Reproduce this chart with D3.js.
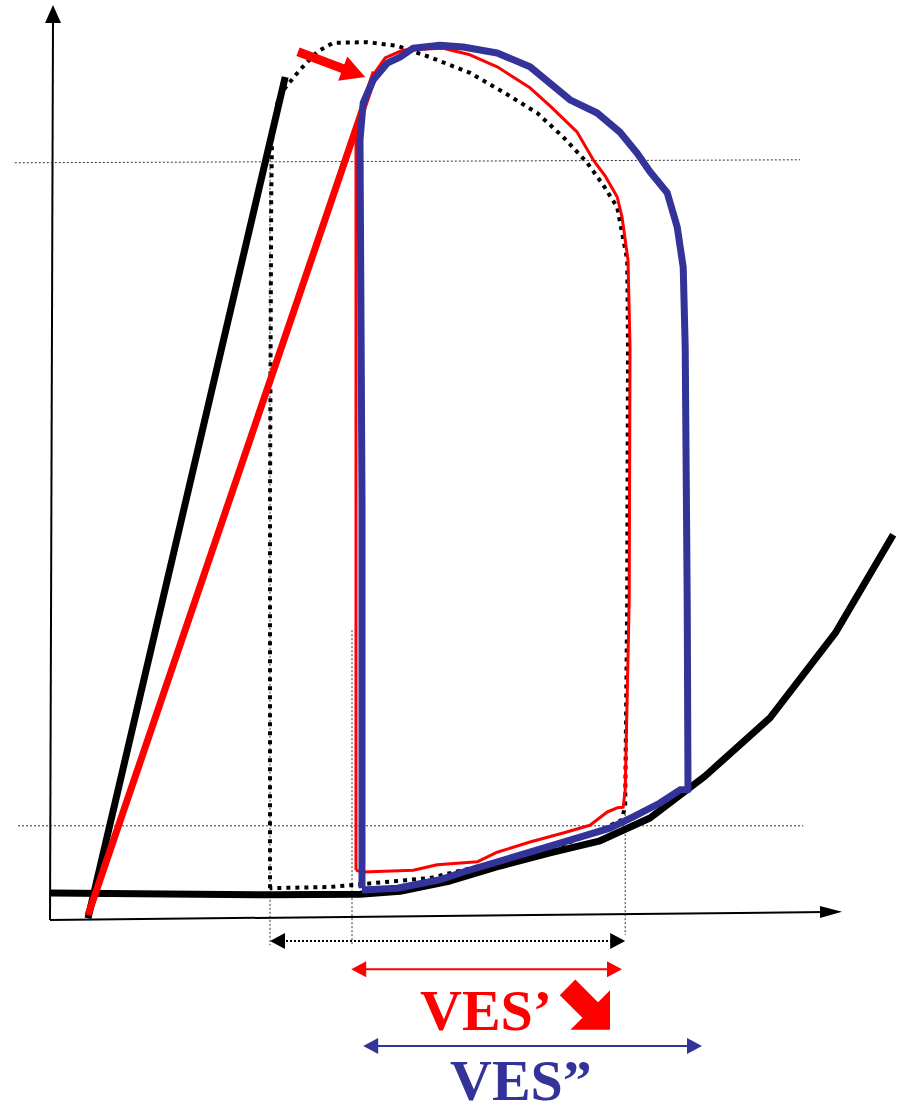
<!DOCTYPE html>
<html>
<head>
<meta charset="utf-8">
<script src="https://cdn.jsdelivr.net/npm/d3@7"></script>
<style>
  html, body { margin: 0; padding: 0; background: #fff; }
  svg { display: block; }
</style>
</head>
<body>
<svg id="chart" width="900" height="1112"></svg>
<script>
// ---------- DATA (volume, pressure in arbitrary units) ----------
// End-diastolic pressure-volume relation (black curve)
const edpvrV = [0, 55, 77.5, 87.5, 100, 112.5, 125, 137.5, 150, 163.8, 180, 196.3, 210.8];
const edpvrP = [4.5, 4.2, 4.3, 4.8, 6.5, 9, 11.2, 13.2, 17, 24, 33.7, 47.8, 64.2];

// End-systolic pressure-volume relations (straight lines)
const espvrBlackV = [9.5, 58.8];
const espvrBlackP = [0.3, 140.5];
const espvrRedV = [9.5, 81.3];
const espvrRedP = [0.8, 141.3];

// Baseline loop (black dotted)
const loopBaseV = [55, 55, 55.3, 55.5, 57, 58.8, 62.5, 66.8, 70.8, 79.3, 86.8, 95, 105, 113.3, 121.8, 128.3, 134.3, 138.3, 141.8, 144.3, 144.5, 144.3, 143.8, 143, 137.5, 128.3, 111.8, 95, 78.3, 70, 55];
const loopBaseP = [5.3, 70, 120, 130, 136.7, 138.7, 141.7, 144.7, 146.2, 146.3, 145.7, 143.8, 141.2, 138, 134.5, 130.5, 126.2, 122.5, 118.8, 110, 95.5, 53.3, 19.2, 16.7, 15, 12.5, 9.7, 7, 6, 5.5, 5.3];

// Loop after contractility drop (red)
const loopRedV = [76.5, 76.5, 76.5, 81.3, 83.8, 88.3, 98.3, 105, 111.8, 120, 125, 131.8, 135.8, 138.8, 141.8, 143, 144.5, 145, 144.8, 143.8, 143.3, 141.8, 139.3, 135, 128.3, 120, 111.8, 106.8, 96.8, 90.8, 78.3, 76.5];
const loopRedP = [8.3, 70, 131.5, 141.3, 143.7, 145, 145.3, 144.2, 142.2, 138.7, 135.7, 131.3, 126.7, 124, 120.5, 117.2, 110, 95.5, 53.3, 21.7, 18.8, 18.7, 18, 15.8, 14.5, 13, 11.3, 9.7, 9.2, 8.3, 8, 8.3];

// Loop after compensation (blue)
const loopBlueV = [78, 78, 77.5, 78.3, 80.8, 84.3, 87.5, 90.8, 97.5, 103.3, 111.8, 120, 130, 136.8, 142.5, 146.8, 150, 154.3, 156.8, 158.3, 158.8, 159.3, 159.5, 157.5, 152.5, 145.8, 140, 120, 103.3, 97.5, 86.8, 78];
const loopBlueP = [5.3, 70, 130, 136.2, 140, 142.8, 143.8, 145.3, 145.8, 145.5, 144.5, 142.2, 136.7, 134.5, 131.3, 127.8, 124.7, 121.2, 115.5, 108.8, 95.5, 53.3, 21.7, 21.7, 19.5, 17.2, 15.3, 11.3, 8, 6.7, 5.3, 5];

// Reference (thin dotted) lines
const refPressures = [126.2, 15.7];          // horizontal guides
const refPressureSpan = [[-8.8, 187.5], [-8, 188.3]];
const refVolumes = [55, 75.5, 143.8];         // vertical guides
const refVolumeSpan = [[126.7, -4.2], [48.3, -4.2], [18.3, -2.5]];

// Stroke-volume dimension arrows
const dimNames = ["base", "red", "blue"];
const dimFrom = [55, 75.3, 78.3];
const dimTo = [143.8, 143, 163];
const dimLevel = [-3.5, -8.2, -21];

// Labels
const labelTexts = ["VES\u2019", "VES\u201D"];
const labelV = [92.5, 100];
const labelP = [-18.3, -30];

// Shift arrow at the top (from black ESPVR to red ESPVR)
const shiftFrom = [62, 144.7];
const shiftTo = [78.8, 140.5];

// ---------- SCALES ----------
const x = d3.scaleLinear().domain([0, 200]).range([50, 850]);
const y = d3.scaleLinear().domain([0, 150]).range([920, 20]);

const RED = "#ff0000";
const BLUE = "#333399";

const svg = d3.select("#chart");
const zip = (a, b) => a.map((v, i) => [v, b[i]]);
const line = d3.line().x(d => x(d[0])).y(d => y(d[1]));

function arrowHead(g, tip, from, len, half, color) {
  const dx = tip[0] - from[0], dy = tip[1] - from[1];
  const L = Math.hypot(dx, dy);
  const ux = dx / L, uy = dy / L;
  const bx = tip[0] - ux * len, by = tip[1] - uy * len;
  const nx = -uy * half, ny = ux * half;
  g.append("polygon")
    .attr("points", [[tip[0], tip[1]], [bx + nx, by + ny], [bx - nx, by - ny]].map(p => p.join(",")).join(" "))
    .attr("fill", color);
}

// ---------- REFERENCE DOTTED LINES ----------
const ref = svg.append("g");
refPressures.forEach((p, i) => {
  ref.append("line")
    .attr("x1", x(refPressureSpan[i][0])).attr("x2", x(refPressureSpan[i][1]))
    .attr("y1", y(p)).attr("y2", y(p) - (i === 0 ? 3 : 0))
    .attr("stroke", "#333").attr("stroke-width", 1).attr("stroke-dasharray", "2,2");
});
refVolumes.forEach((v, i) => {
  ref.append("line")
    .attr("x1", x(v)).attr("x2", x(v))
    .attr("y1", y(refVolumeSpan[i][0])).attr("y2", y(refVolumeSpan[i][1]))
    .attr("stroke", "#333").attr("stroke-width", 1).attr("stroke-dasharray", "2,2");
});

// ---------- AXES ----------
const ax = svg.append("g");
ax.append("line").attr("x1", x(0)).attr("y1", y(0)).attr("x2", x(0) + 3).attr("y2", 20)
  .attr("stroke", "#000").attr("stroke-width", 2);
arrowHead(ax, [x(0) + 3, 5], [x(0) + 3, 40], 18, 8, "#000");
ax.append("line").attr("x1", x(0)).attr("y1", y(0)).attr("x2", 825).attr("y2", y(0) - 8)
  .attr("stroke", "#000").attr("stroke-width", 2);
arrowHead(ax, [842, y(0) - 8.2], [800, y(0) - 7.8], 22, 6, "#000");

// ---------- CURVES ----------
const curves = svg.append("g").attr("fill", "none").attr("stroke-linejoin", "round");

curves.append("path").attr("d", line(zip(edpvrV, edpvrP)))
  .attr("stroke", "#000").attr("stroke-width", 7);

curves.append("path").attr("d", line(zip(espvrBlackV, espvrBlackP)))
  .attr("stroke", "#000").attr("stroke-width", 7);

curves.append("path").attr("d", line(zip(loopBaseV, loopBaseP)))
  .attr("stroke", "#000").attr("stroke-width", 4).attr("stroke-dasharray", "4,5");

curves.append("path").attr("d", line(zip(espvrRedV, espvrRedP)))
  .attr("stroke", RED).attr("stroke-width", 7);

curves.append("path").attr("d", line(zip(loopRedV, loopRedP)))
  .attr("stroke", RED).attr("stroke-width", 3);

curves.append("path").attr("d", line(zip(loopBlueV, loopBlueP)))
  .attr("stroke", BLUE).attr("stroke-width", 7);

// ---------- SHIFT ARROW ----------
{
  const g = svg.append("g");
  const a = [x(shiftFrom[0]), y(shiftFrom[1])];
  const b = [x(shiftTo[0]), y(shiftTo[1])];
  const dx = b[0] - a[0], dy = b[1] - a[1], L = Math.hypot(dx, dy);
  const end = [b[0] - dx / L * 20, b[1] - dy / L * 20];
  g.append("line").attr("x1", a[0]).attr("y1", a[1]).attr("x2", end[0]).attr("y2", end[1])
    .attr("stroke", RED).attr("stroke-width", 9);
  arrowHead(g, b, a, 24, 13, RED);
}

// ---------- DIMENSION ARROWS ----------
const dimColor = { base: "#000", red: RED, blue: BLUE };
dimNames.forEach((n, i) => {
  const g = svg.append("g");
  const yy = y(dimLevel[i]);
  const x1 = x(dimFrom[i]), x2 = x(dimTo[i]);
  g.append("line").attr("x1", x1 + 12).attr("x2", x2 - 12).attr("y1", yy).attr("y2", yy)
    .attr("stroke", dimColor[n]).attr("stroke-width", 2)
    .attr("stroke-dasharray", n === "base" ? "2,2" : null);
  arrowHead(g, [x1, yy], [x2, yy], 15, 8, dimColor[n]);
  arrowHead(g, [x2, yy], [x1, yy], 15, 8, dimColor[n]);
});

// ---------- LABELS ----------
const labelColors = [RED, BLUE];
labelTexts.forEach((t, i) => {
  svg.append("text")
    .attr("x", x(labelV[i])).attr("y", y(labelP[i]))
    .attr("font-family", "'Liberation Serif', 'Times New Roman', serif")
    .attr("font-weight", "bold").attr("font-size", 58)
    .attr("fill", labelColors[i]).text(t);
});

// Down-right block arrow next to VES'
{
  const tip = [610, y(labelP[0])];
  const local = [[0, 0], [-28, 28], [-28, 11], [-60, 11], [-60, -11], [-28, -11], [-28, -28]];
  const c = Math.cos(Math.PI / 4), s = Math.sin(Math.PI / 4);
  const pts = local.map(([u, w]) => [tip[0] + u * c - w * s, tip[1] + u * s + w * c]);
  svg.append("polygon").attr("points", pts.map(p => p.join(",")).join(" ")).attr("fill", RED);
}
</script>
</body>
</html>
